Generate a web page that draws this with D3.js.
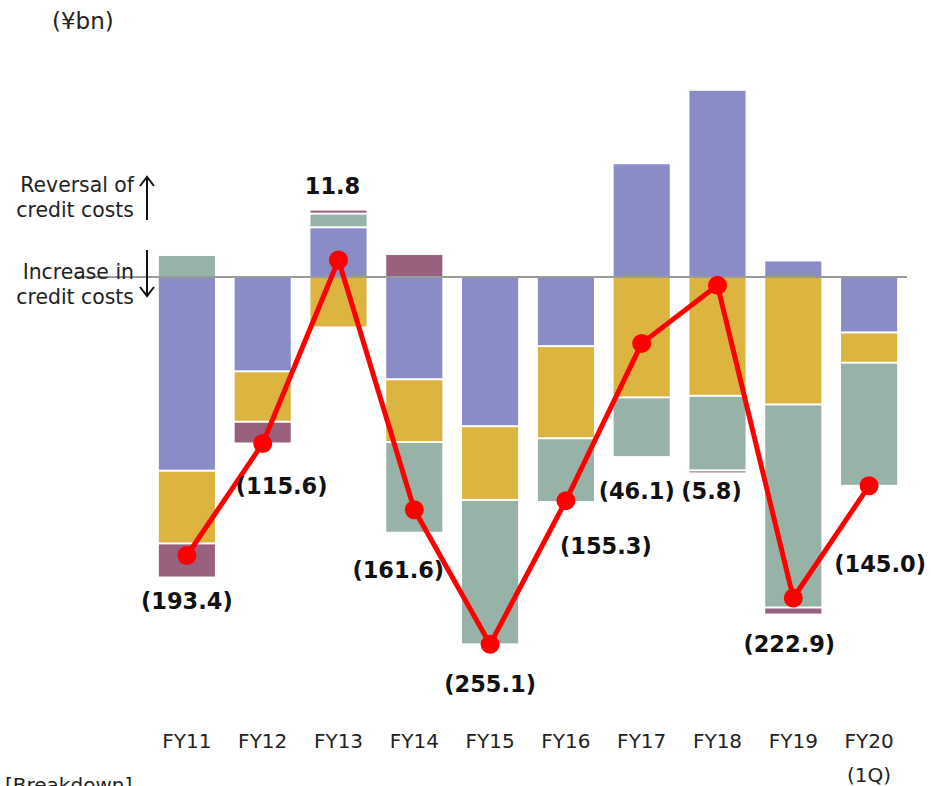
<!DOCTYPE html>
<html>
<head>
<meta charset="utf-8">
<script src="https://cdn.jsdelivr.net/npm/d3@7"></script>
<style>
  body { margin: 0; background: #fff; }
  text { font-family: "DejaVu Sans", Verdana, sans-serif; }
</style>
</head>
<body>
<div class="canvas"></div>
<script>
// data (¥bn)
const years = ['FY11', 'FY12', 'FY13', 'FY14', 'FY15', 'FY16', 'FY17', 'FY18', 'FY19', 'FY20'];
const purple = [-134.5, -65.5, 34.5, -71.0, -103.6, -48.0, 79.0, 130.0, 11.5, -38.5];
const gold   = [-50.5, -35.0, -35.0, -43.6, -51.2, -64.0, -83.6, -82.5, -88.5, -21.0];
const green  = [15.3, 0, 9.5, -63.0, -100.3, -44.3, -41.5, -51.8, -141.0, -85.5];
const mauve  = [-23.7, -15.1, 2.8, 16.0, 0, 1.0, 0, -1.5, -4.9, 0];
const totals = [-193.4, -115.6, 11.8, -161.6, -255.1, -155.3, -46.1, -5.8, -222.9, -145.0];
const totalLabels = ['(193.4)', '(115.6)', '11.8', '(161.6)', '(255.1)', '(155.3)', '(46.1)', '(5.8)', '(222.9)', '(145.0)'];

// label offsets from each line point (layout only)
const labelDx = [0, 19, -6, -16, 0, 40, -5, -6, -4, 11];
const labelDy = [54, 51, -66, 68, 48, 53, 156, 214, 54, 86];

const colors = {purple: '#8a8cc7', gold: '#dcb440', green: '#97b2a6', mauve: '#98617e'};
const keys = ['purple', 'gold', 'green', 'mauve'];

const rows = years.map((y, i) => ({
  year: y, purple: purple[i], gold: gold[i], green: green[i], mauve: mauve[i], total: totals[i]
}));

const width = 931, height = 786;

const svg = d3.select('.canvas')
  .append('svg')
    .attr('width', width)
    .attr('height', height);

const x = d3.scaleBand()
  .domain(years)
  .range([149, 907])
  .paddingInner(0.26)
  .paddingOuter(0.13);

const y = d3.scaleLinear()
  .domain([-260, 140])
  .range([277 + 260 * 1.44, 277 - 140 * 1.44]);

const stacked = d3.stack()
  .keys(keys)
  .offset(d3.stackOffsetDiverging)(rows);

// bars
svg.append('g')
  .selectAll('g')
  .data(stacked)
  .enter()
  .append('g')
    .attr('fill', d => colors[d.key])
  .selectAll('rect')
  .data(d => d.filter(s => s[1] - s[0] !== 0))
  .enter()
  .append('rect')
    .attr('x', d => x(d.data.year))
    .attr('width', x.bandwidth())
    .attr('y', d => y(d[1]) + 1)
    .attr('height', d => Math.max(1, y(d[0]) - y(d[1]) - 2));

// zero line
svg.append('line')
  .attr('x1', 75)
  .attr('x2', 907)
  .attr('y1', y(0))
  .attr('y2', y(0))
  .attr('stroke', '#9a9a9a')
  .attr('stroke-width', 2);

// total line
const line = d3.line()
  .x(d => x(d.year) + x.bandwidth() / 2)
  .y(d => y(d.total));

svg.append('path')
  .datum(rows)
  .attr('d', line)
  .attr('fill', 'none')
  .attr('stroke', '#ff0000')
  .attr('stroke-width', 5)
  .attr('stroke-linejoin', 'round');

svg.append('g')
  .selectAll('circle')
  .data(rows)
  .enter()
  .append('circle')
    .attr('cx', d => x(d.year) + x.bandwidth() / 2)
    .attr('cy', d => y(d.total))
    .attr('r', 9.5)
    .attr('fill', '#ff0000');

// value labels
svg.append('g')
  .selectAll('text')
  .data(rows)
  .enter()
  .append('text')
    .attr('x', (d, i) => x(d.year) + x.bandwidth() / 2 + labelDx[i])
    .attr('y', (d, i) => y(d.total) + labelDy[i])
    .attr('text-anchor', 'middle')
    .attr('font-weight', 'bold')
    .attr('font-size', 22.5)
    .attr('fill', '#111')
    .text((d, i) => totalLabels[i]);

// x axis
const xAxisGroup = svg.append('g')
  .attr('transform', 'translate(0, 730)');

xAxisGroup.call(d3.axisBottom(x).tickSize(0).tickPadding(0));
xAxisGroup.select('.domain').remove();
xAxisGroup.selectAll('text')
  .attr('font-size', 20)
  .attr('fill', '#222')
  .attr('dy', 18)
  .style('font-family', '"DejaVu Sans", Verdana, sans-serif');

svg.append('text')
  .attr('x', x('FY20') + x.bandwidth() / 2)
  .attr('y', 782)
  .attr('text-anchor', 'middle')
  .attr('font-size', 20)
  .attr('fill', '#222')
  .text('(1Q)');

// unit & notes
svg.append('text')
  .attr('x', 52)
  .attr('y', 29)
  .attr('font-size', 23)
  .attr('fill', '#222')
  .text('(¥bn)');

svg.append('text')
  .attr('x', 5)
  .attr('y', 792)
  .attr('font-size', 20)
  .attr('fill', '#222')
  .text('[Breakdown]');

const notes = [
  {t: 'Reversal of', y: 192},
  {t: 'credit costs', y: 217},
  {t: 'Increase in', y: 279},
  {t: 'credit costs', y: 304}
];
svg.append('g')
  .selectAll('text')
  .data(notes)
  .enter()
  .append('text')
    .attr('x', 134)
    .attr('y', d => d.y)
    .attr('text-anchor', 'end')
    .attr('font-size', 20.4)
    .attr('fill', '#222')
    .text(d => d.t);

// arrows
const arrows = svg.append('g')
  .attr('fill', 'none')
  .attr('stroke', '#111')
  .attr('stroke-width', 2);
arrows.append('path').attr('d', 'M147,220 L147,178 M140,186 L147,177 L154,186');
arrows.append('path').attr('d', 'M147,250 L147,295 M140,287 L147,296 L154,287');
</script>
</body>
</html>
